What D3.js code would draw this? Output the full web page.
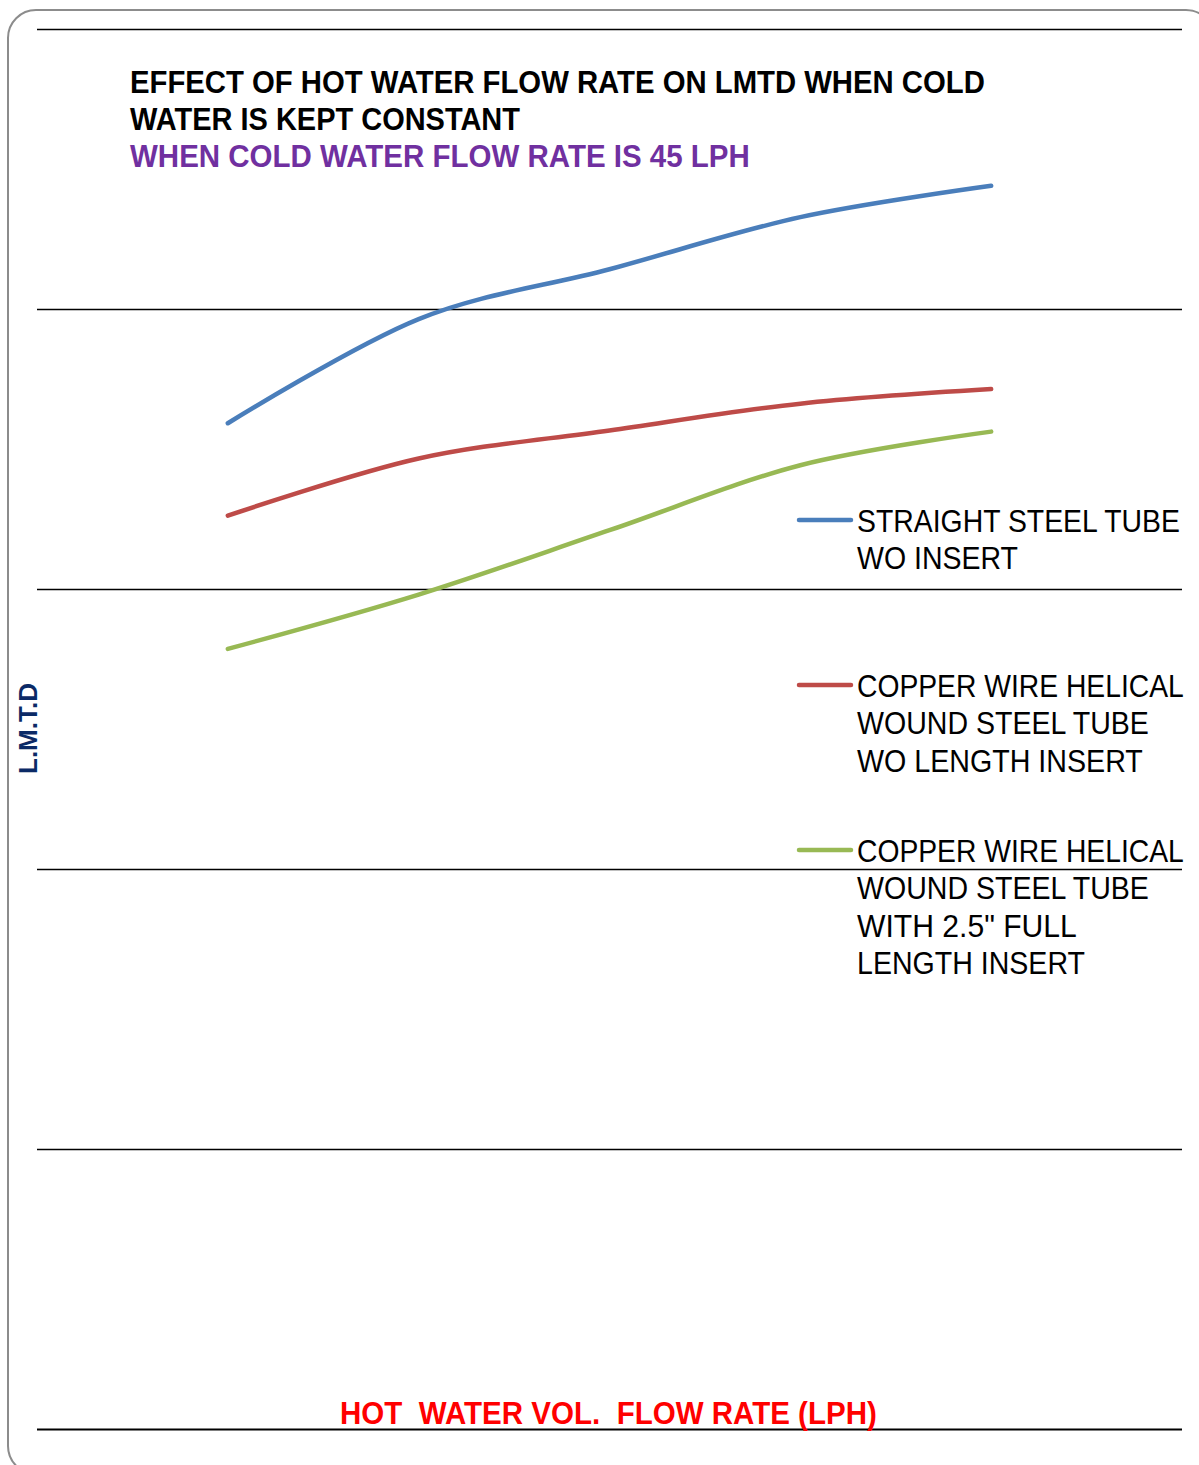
<!DOCTYPE html>
<html>
<head>
<meta charset="utf-8">
<script src="https://cdn.jsdelivr.net/npm/d3@7"></script>
<style>
  html, body { margin: 0; padding: 0; background: #fff; }
  svg { display: block; }
  text { white-space: pre; }
</style>
</head>
<body>
<div id="chart"></div>
<script>
// Hot water flow rates (LPH) at which LMTD was measured
const flowRates = [20, 40, 60, 80, 100];

// LMTD readings for each tube configuration
const straightTube = [17.96, 19.82, 20.71, 21.64, 22.20];
const helicalNoInsert = [16.31, 17.33, 17.83, 18.31, 18.57];
const helicalFullInsert = [13.93, 14.90, 16.05, 17.21, 17.81];

const seriesNames = [
  ["STRAIGHT STEEL TUBE", "WO INSERT"],
  ["COPPER WIRE HELICAL", "WOUND STEEL TUBE", "WO LENGTH INSERT"],
  ["COPPER WIRE HELICAL", "WOUND STEEL TUBE", "WITH 2.5\" FULL", "LENGTH INSERT"]
];
const seriesColors = ["#4A7EBB", "#BE4B48", "#98B954"];

const yTicks = [0, 5, 10, 15, 20, 25];

const titleLines = ["EFFECT OF HOT WATER FLOW RATE ON LMTD WHEN COLD", "WATER IS KEPT CONSTANT"];
const subtitle = "WHEN COLD WATER FLOW RATE IS 45 LPH";
const xTitle = "HOT  WATER VOL.  FLOW RATE (LPH)";
const yTitle = "L.M.T.D";

const W = 1199, H = 1465;
const plot = { left: 37, right: 1182, top: 29, bottom: 1429 };
const fontStack = "'Liberation Sans', Arial, sans-serif";

const svg = d3.select("#chart").append("svg")
  .attr("width", W).attr("height", H);

// Rounded chart frame
svg.append("rect")
  .attr("x", 8).attr("y", 10)
  .attr("width", 1206).attr("height", 1464)
  .attr("rx", 28).attr("ry", 28)
  .attr("fill", "#fff")
  .attr("stroke", "#8c8c8c").attr("stroke-width", 2);

const x = d3.scaleLinear().domain([0, 120]).range([plot.left, plot.right]);
const y = d3.scaleLinear().domain([0, 25]).range([plot.bottom, plot.top]);

// Horizontal gridlines (no tick labels)
const yAxis = d3.axisLeft(y).tickValues(yTicks)
  .tickSize(-(plot.right - plot.left)).tickFormat("");
const gy = svg.append("g")
  .attr("transform", `translate(${plot.left},0)`)
  .call(yAxis);
gy.select(".domain").remove();
gy.selectAll(".tick line")
  .attr("stroke", "#000")
  .attr("stroke-width", d => d === 0 ? 2.2 : 1.5);

// Smoothed series lines
const line = d3.line()
  .x((d, i) => x(flowRates[i]))
  .y(d => y(d))
  .curve(d3.curveCardinal.tension(0));

const allSeries = [straightTube, helicalNoInsert, helicalFullInsert];
svg.append("g").selectAll("path")
  .data(allSeries)
  .join("path")
  .attr("d", d => line(d))
  .attr("fill", "none")
  .attr("stroke", (d, i) => seriesColors[i])
  .attr("stroke-width", 4.5)
  .attr("stroke-linecap", "round")
  .attr("stroke-linejoin", "round");

// Text condensed horizontally to span a given width
function fitText(g, str, px, py, size, width, opts = {}) {
  const t = g.append("text")
    .attr("x", 0).attr("y", 0)
    .attr("font-family", fontStack)
    .attr("font-size", size)
    .attr("font-weight", opts.weight || "normal")
    .attr("fill", opts.fill || "#000")
    .text(str);
  const natural = t.node().getComputedTextLength();
  const sx = width / natural;
  const rot = opts.rotate ? ` rotate(${opts.rotate})` : "";
  t.attr("transform", `translate(${px},${py})${rot} scale(${sx},1)`);
  return t;
}

// Title
const tg = svg.append("g");
fitText(tg, titleLines[0], 130, 93, 31, 855, { weight: "bold" });
fitText(tg, titleLines[1], 130, 130, 31, 390, { weight: "bold" });
fitText(tg, subtitle, 130, 167, 31, 620, { weight: "bold", fill: "#7030A0" });

// Axis titles
fitText(svg, xTitle, 340, 1424, 32, 537, { weight: "bold", fill: "#FF0000" });
fitText(svg, yTitle, 37, 774, 26, 91, { weight: "bold", fill: "#0B2A66", rotate: -90 });

// Legend
const legendY = [520, 685, 850];
const lineWidths = [
  [323, 161],
  [327, 292, 286],
  [327, 292, 220, 228]
];
const lg = svg.append("g");
seriesNames.forEach((lines, i) => {
  lg.append("line")
    .attr("x1", 799).attr("x2", 851)
    .attr("y1", legendY[i]).attr("y2", legendY[i])
    .attr("stroke", seriesColors[i])
    .attr("stroke-width", 4.5)
    .attr("stroke-linecap", "round");
  lines.forEach((t, j) => {
    fitText(lg, t, 857, legendY[i] + 11.5 + j * 37.6, 31, lineWidths[i][j]);
  });
});
</script>
</body>
</html>
